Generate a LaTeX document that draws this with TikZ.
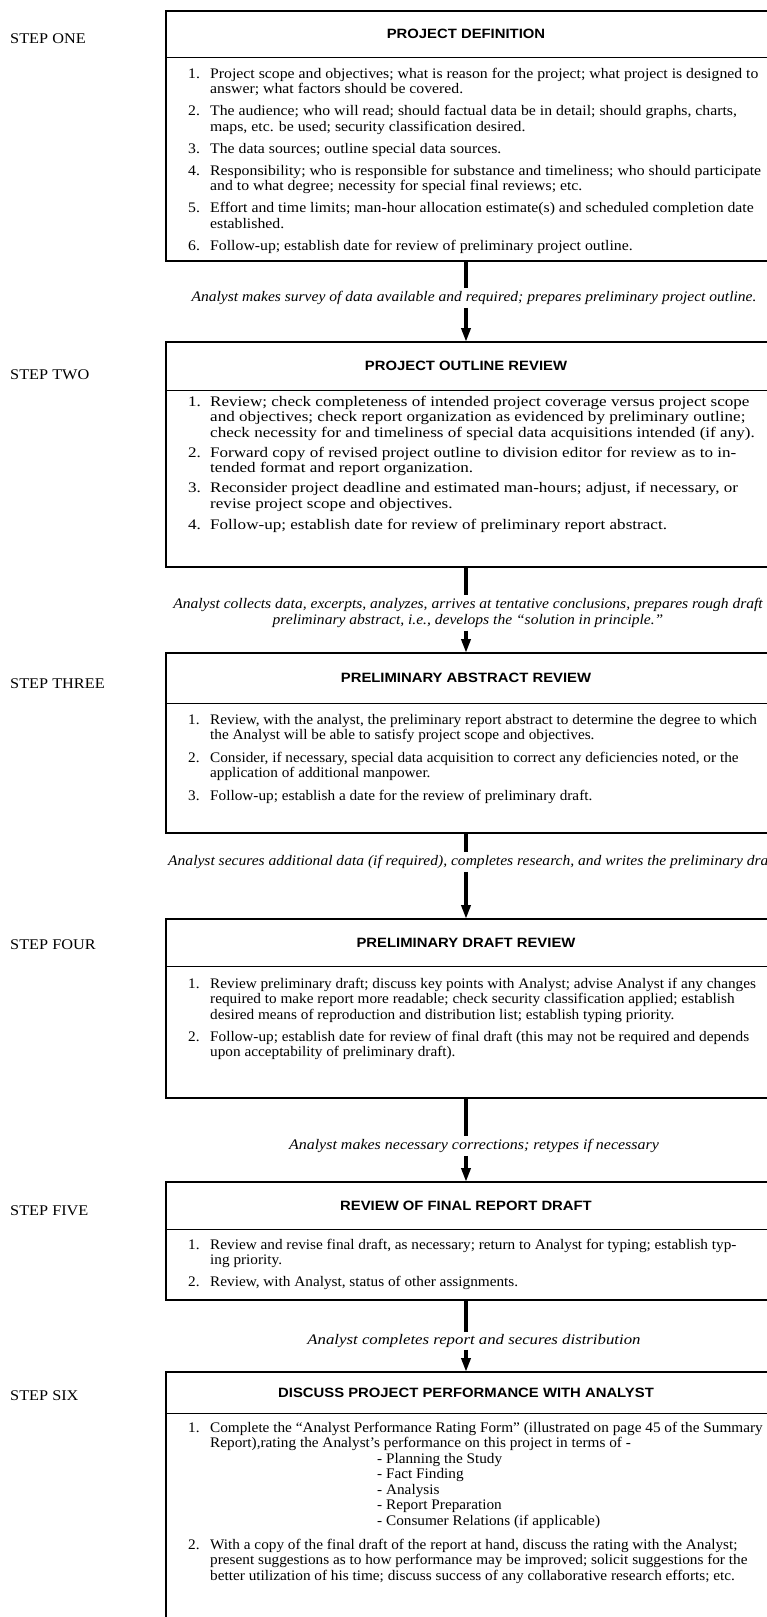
\documentclass[tikz,border=0pt]{standalone}
\usepackage{fontspec}
\setmainfont{Liberation Serif}[FakeStretch=1.045]
\newfontfamily\firstbody{Liberation Serif}[FakeStretch=1.08, Ligatures=TeX]
\newfontfamily\widebody{Liberation Serif}[FakeStretch=1.17, Ligatures=TeX]
\newfontfamily\notefont{Liberation Serif}[FakeStretch=1.065, Ligatures=TeX]
\newfontfamily\notefontb{Liberation Serif}[FakeStretch=1.095, Ligatures=TeX]
\newfontfamily\notefontc{Liberation Serif}[FakeStretch=1.15, Ligatures=TeX]
\newfontfamily\labelfont{Liberation Serif}[FakeStretch=1.1]
\newfontfamily\titlefont{Liberation Sans}[FakeStretch=1.1]
\usetikzlibrary{arrows.meta}

% numbered entry: number in a fixed-width slot, then the lines of the entry
\newcommand\entry[2]{\makebox[22pt][l]{#1}\begin{tabular}[t]{@{}l@{}}#2\end{tabular}}
\newcommand\lines[1]{\begin{tabular}[t]{@{}l@{}}#1\end{tabular}}

\begin{document}
\begin{tikzpicture}[x=1pt,y=-1pt,
  steplabel/.style={anchor=west, inner sep=0pt, font=\labelfont\fontsize{14.8}{16}\selectfont},
  panel/.style={anchor=north, inner sep=0pt, minimum width=600pt},
  heading/.style={anchor=north, inner sep=0pt, minimum width=600pt,
    font=\titlefont\bfseries\fontsize{13.5}{15}\selectfont},
  frame/.style={line width=2pt, line cap=rect},
  rule/.style={line width=1.4pt},
  entryline/.style={anchor=base west, inner sep=0pt, font=\fontsize{14.6}{15.5}\selectfont},
  firstentry/.style={entryline, font=\firstbody\fontsize{14.6}{15.5}\selectfont},
  wideentry/.style={entryline, font=\widebody\fontsize{14.6}{15.5}\selectfont},
  note/.style={inner sep=3pt, align=center, font=\notefont\itshape\fontsize{14.6}{15.5}\selectfont},
  flow/.style={line width=4pt},
  flowarrow/.style={line width=4pt, -{Triangle[length=14pt,width=9pt]}}
]
\clip (0,0) rectangle (767,1617);
\fill[white] (0,0) rectangle (767,1617);

% ---------- step labels ----------
\node[steplabel] (s1) at (10,39)   {STEP ONE};
\node[steplabel] (s2) at (10,375)  {STEP TWO};
\node[steplabel] (s3) at (10,684)  {STEP THREE};
\node[steplabel] (s4) at (10,945)  {STEP FOUR};
\node[steplabel] (s5) at (10,1211) {STEP FIVE};
\node[steplabel] (s6) at (10,1396) {STEP SIX};

% ---------- panels (open on the right) ----------
\node[panel, minimum height=250pt] (p1) at (466,11)   {};
\node[panel, minimum height=225pt] (p2) at (466,342)  {};
\node[panel, minimum height=180pt] (p3) at (466,653)  {};
\node[panel, minimum height=179pt] (p4) at (466,919)  {};
\node[panel, minimum height=118pt] (p5) at (466,1182) {};
\node[panel, minimum height=260pt] (p6) at (466,1372) {};

\foreach \p in {p1,p2,p3,p4,p5}
  \draw[frame] ([xshift=30pt]\p.north east) -- (\p.north west) -- (\p.south west) -- ([xshift=30pt]\p.south east);
\draw[frame] ([xshift=30pt]p6.north east) -- (p6.north west) -- (p6.south west);

% ---------- headings ----------
\node[heading, minimum height=46pt] (t1) at (466,11)   {PROJECT DEFINITION};
\node[heading, minimum height=48pt] (t2) at (466,342)  {PROJECT OUTLINE REVIEW};
\node[heading, minimum height=50pt] (t3) at (466,653)  {PRELIMINARY ABSTRACT REVIEW};
\node[heading, minimum height=47pt] (t4) at (466,919)  {PRELIMINARY DRAFT REVIEW};
\node[heading, minimum height=47pt] (t5) at (466,1182) {REVIEW OF FINAL REPORT DRAFT};
\node[heading, minimum height=41pt] (t6) at (466,1372) {DISCUSS PROJECT PERFORMANCE WITH ANALYST};
\foreach \t in {t1,t2,t3,t4,t5,t6}
  \draw[rule] (\t.south west) -- ([xshift=30pt]\t.south east);

% ---------- step one ----------
\node[firstentry] (e11) at (188,78)    {\entry{1.}{Project scope and objectives; what is reason for the project; what project is designed to\\answer; what factors should be covered.}};
\node[firstentry] (e12) at (188,115.5) {\entry{2.}{The audience; who will read; should factual data be in detail; should graphs, charts,\\maps, etc. be used; security classification desired.}};
\node[firstentry] (e13) at (188,153)   {\entry{3.}{The data sources; outline special data sources.}};
\node[firstentry] (e14) at (188,175)   {\entry{4.}{Responsibility; who is responsible for substance and timeliness; who should participate\\and to what degree; necessity for special final reviews; etc.}};
\node[firstentry] (e15) at (188,212.5) {\entry{5.}{Effort and time limits; man-hour allocation estimate(s) and scheduled completion date\\established.}};
\node[firstentry] (e16) at (188,250)   {\entry{6.}{Follow-up; establish date for review of preliminary project outline.}};

% ---------- step two ----------
\node[wideentry] (e21) at (188,406)   {\entry{1.}{Review; check completeness of intended project coverage versus project scope\\and objectives; check report organization as evidenced by preliminary outline;\\check necessity for and timeliness of special data acquisitions intended (if any).}};
\node[wideentry] (e22) at (188,457)   {\entry{2.}{Forward copy of revised project outline to division editor for review as to in-\\tended format and report organization.}};
\node[wideentry] (e23) at (188,492.5) {\entry{3.}{Reconsider project deadline and estimated man-hours; adjust, if necessary, or\\revise project scope and objectives.}};
\node[wideentry] (e24) at (188,529)   {\entry{4.}{Follow-up; establish date for review of preliminary report abstract.}};

% ---------- step three ----------
\node[entryline] (e31) at (188,724)   {\entry{1.}{Review, with the analyst, the preliminary report abstract to determine the degree to which\\the Analyst will be able to satisfy project scope and objectives.}};
\node[entryline] (e32) at (188,762)   {\entry{2.}{Consider, if necessary, special data acquisition to correct any deficiencies noted, or the\\application of additional manpower.}};
\node[entryline] (e33) at (188,800)   {\entry{3.}{Follow-up; establish a date for the review of preliminary draft.}};

% ---------- step four ----------
\node[entryline] (e41) at (188,988)   {\entry{1.}{Review preliminary draft; discuss key points with Analyst; advise Analyst if any changes\\required to make report more readable; check security classification applied; establish\\desired means of reproduction and distribution list; establish typing priority.}};
\node[entryline] (e42) at (188,1041)  {\entry{2.}{Follow-up; establish date for review of final draft (this may not be required and depends\\upon acceptability of preliminary draft).}};

% ---------- step five ----------
\node[entryline] (e51) at (188,1249)  {\entry{1.}{Review and revise final draft, as necessary; return to Analyst for typing; establish typ-\\ing priority.}};
\node[entryline] (e52) at (188,1286)  {\entry{2.}{Review, with Analyst, status of other assignments.}};

% ---------- step six ----------
\node[entryline] (e61) at (188,1432)  {\entry{1.}{Complete the ``Analyst Performance Rating Form'' (illustrated on page 45 of the Summary\\Report),rating the Analyst's performance on this project in terms of -}};
\node[entryline] (e6b) at (377,1463)  {\lines{- Planning the Study\\- Fact Finding\\- Analysis\\- Report Preparation\\- Consumer Relations (if applicable)}};
\node[entryline] (e62) at (188,1549)  {\entry{2.}{With a copy of the final draft of the report at hand, discuss the rating with the Analyst;\\present suggestions as to how performance may be improved; solicit suggestions for the\\better utilization of his time; discuss success of any collaborative research efforts; etc.}};

% ---------- analyst activity between steps ----------
\node[note] (c1) at (474,298)  {Analyst makes survey of data available and required; prepares preliminary project outline.};
\node[note] (c2) at (468,613)  {Analyst collects data, excerpts, analyzes, arrives at tentative conclusions, prepares rough draft\\preliminary abstract, i.e., develops the ``solution in principle.''};
\node[note, anchor=west] (c3) at (165,862) {Analyst secures additional data (if required), completes research, and writes the preliminary draft};
\node[note, font=\notefontb\itshape\fontsize{14.6}{15.5}\selectfont] (c4) at (474,1146) {Analyst makes necessary corrections; retypes if necessary};
\node[note, inner sep=2pt, font=\notefontc\itshape\fontsize{14.6}{15.5}\selectfont] (c5) at (474,1341) {Analyst completes report and secures distribution};

\draw[flow] (p1.south) -- (c1.north -| p1.south);
\draw[flowarrow] (c1.south -| p1.south) -- (p2.north);
\draw[flow] (p2.south) -- (c2.north -| p2.south);
\draw[flowarrow] (c2.south -| p2.south) -- (p3.north);
\draw[flow] (p3.south) -- (c3.north -| p3.south);
\draw[flowarrow] (c3.south -| p3.south) -- (p4.north);
\draw[flow] (p4.south) -- (c4.north -| p4.south);
\draw[flowarrow] (c4.south -| p4.south) -- (p5.north);
\draw[flow] (p5.south) -- (c5.north -| p5.south);
\draw[flowarrow] (c5.south -| p5.south) -- (p6.north);
\end{tikzpicture}
\end{document}
